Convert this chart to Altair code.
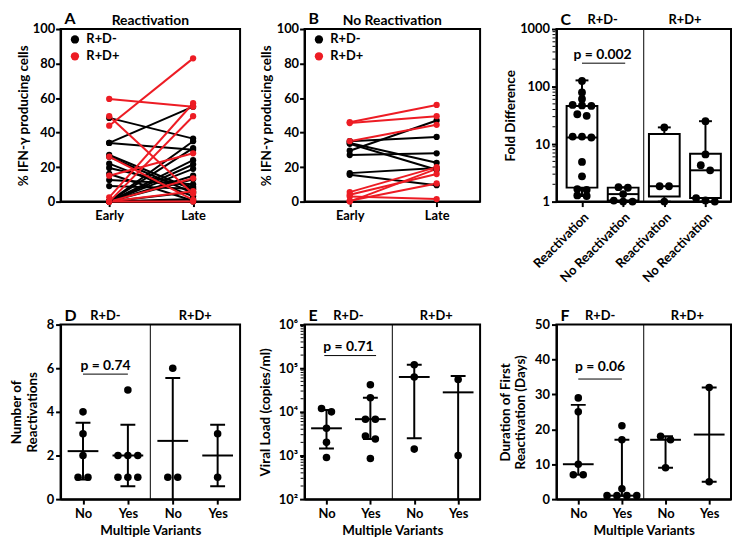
import math
import altair as alt
import pandas as pd

FONT = "Lato"
RED = "#ed1c24"

# ---------------- data ----------------
GROUPS = ["R+D-", "R+D+"]
TIME_LABELS = ["Early", "Late"]

# Panel A (Reactivation) : early/late % IFN-g producing cells
A_black_early = [48.5, 34, 34, 27, 26, 22, 19.5, 16, 12.5, 9, 0, 0, 0, 0, 0, 0, 0, 0, 0, 0]
A_black_late = [36.5, 55, 30, 7, 5, 3, 8.5, 0.5, 10, 7.5, 35, 31, 24, 21.5, 19, 15, 13, 5.5, 1.5, 0]
A_red_early = [59.5, 44, 49.5, 26, 15, 2.5, 0, 0, 0, 0]
A_red_late = [55, 83, 4.5, 1, 28, 57, 49.5, 13.5, 6, 0]

# Panel B (No Reactivation)
B_black_early = [35, 34, 33.5, 29.5, 27, 16.5, 15.5]
B_black_late = [37.5, 22.5, 18.5, 47, 28, 19.5, 9.5]
B_red_early = [46, 45.5, 35, 5.5, 4, 3, 0.5, 0]
B_red_late = [56, 49.5, 44.5, 20, 16, 1.5, 10.5, 19]

# Panel C (Fold difference, box plots min-max)
C_labels = ["Reactivation", "No Reactivation", "Reactivation", "No Reactivation"]
C_vals = [
    [125, 79, 61, 48, 47, 46, 33, 31, 13.5, 13.5, 13, 4.9, 2.75, 1.65, 1.6, 1.28, 1.25],
    [1.78, 1.74, 1.35, 1.04, 1.0, 1.0],
    [19.5, 1.85, 1.85, 1.0],
    [25, 6.6, 4.3, 3.5, 1.15, 1.05, 1.0],
]
C_min = [1.25, 1.0, 1.0, 1.0]
C_q1 = [1.75, 1.05, 1.23, 1.15]
C_med = [13, 1.35, 1.85, 3.5]
C_q3 = [46, 1.75, 15, 6.8]
C_max = [128, 1.78, 19.5, 25]
C_p = "p = 0.002"
C_p_text_y = 350
C_p_line_y = 255
LOG_MINOR = [2, 3, 4, 5, 6, 7, 8, 9]

MV_labels = ["No", "Yes", "No", "Yes"]

# Panel D (Number of reactivations, mean +/- SD)
D_vals = [[4, 3, 2, 1, 1], [5, 2, 2, 2, 1, 1, 1], [6, 1, 1], [3, 1]]
D_center = [2.2, 2.0, 2.67, 2.0]
D_lo = [0.9, 0.59, -0.22, 0.59]
D_hi = [3.5, 3.41, 5.55, 3.41]
D_p = "p = 0.74"
D_p_text_y = 6.1
D_p_line_y = 5.73

# Panel E (Viral load, median with IQR)
E_vals = [[12000, 10000, 4200, 2000, 900],
          [42000, 21000, 6800, 6800, 2800, 2400, 850],
          [120000, 63000, 1400],
          [55000, 1000]]
E_center = [4200, 6800, 63000, 28000]
E_lo = [1450, 2400, 2500, 50]
E_hi = [11000, 21000, 120000, 66000]
E_p = "p = 0.71"
E_p_text_y = 300000
E_p_line_y = 195000

# Panel F (Duration of first reactivation, median with IQR)
F_vals = [[29, 25, 10, 7, 7], [21, 17, 3, 1, 1, 1, 1], [18, 17, 9], [32, 5]]
F_center = [10, 1, 17, 18.5]
F_lo = [7, 1, 9, 5]
F_hi = [27, 17, 18, 32]
F_p = "p = 0.06"
F_p_text_y = 37.9
F_p_line_y = 34.4

# ---------------- layout ----------------
W1, W2, W3 = 181, 177, 176
H1, H2 = 174, 176
POS = [1, 2, 3, 4]
LBL = 13


def text_layer(txt, x, y, size, align="left", baseline="alphabetic"):
    return alt.Chart(pd.DataFrame({"txt": [txt]})).mark_text(
        font=FONT, fontWeight="bold", fontSize=size, align=align,
        baseline=baseline, color="black"
    ).encode(text="txt:N", x=alt.value(x), y=alt.value(y))


def line_panel(be, bl, re_, rl, domain, W, H, letter, title, tpad):
    rows = []
    for g, ee, ll in ((GROUPS[0], be, bl), (GROUPS[1], re_, rl)):
        for i, (e, l) in enumerate(zip(ee, ll)):
            rows.append(dict(id=f"{g}{i}", grp=g, t=0, v=e))
            rows.append(dict(id=f"{g}{i}", grp=g, t=1, v=l))
    df = pd.DataFrame(rows)
    X = alt.X("t:Q", scale=alt.Scale(domain=domain, nice=False, zero=False),
              axis=alt.Axis(values=[0, 1], title=None, labelPadding=3,
                            labelExpr="datum.value == 0 ? '%s' : '%s'" % tuple(TIME_LABELS)))
    Y = alt.Y("v:Q", scale=alt.Scale(domain=[0, 100], nice=False),
              axis=alt.Axis(values=[0, 20, 40, 60, 80, 100], title="% IFN-γ producing cells",
                            titlePadding=tpad, labelPadding=1))
    sc = alt.Scale(domain=GROUPS, range=["black", RED])
    lines_b = alt.Chart(df).transform_filter(alt.datum.grp == GROUPS[0]).mark_line(
        strokeWidth=2, color="black").encode(x=X, y=Y, detail="id:N")
    lines_r = alt.Chart(df).transform_filter(alt.datum.grp == GROUPS[1]).mark_line(
        strokeWidth=2, color=RED).encode(x=X, y=Y, detail="id:N")
    pts = alt.Chart(df).mark_circle(size=40, opacity=1).encode(
        x=X, y=Y,
        color=alt.Color("grp:N", scale=sc, legend=alt.Legend(
            orient="none", legendX=8, legendY=4, title=None, symbolType="circle",
            symbolSize=70, symbolStrokeWidth=0, labelFont=FONT, labelFontSize=13,
            labelFontWeight="bold", labelColor="black", padding=0, rowPadding=3,
            labelOffset=5)))
    let = text_layer(letter, 4, -5, 16)
    tit = text_layer(title, W / 2, -4, 14, align="center")
    return alt.layer(lines_b, lines_r, pts, let, tit).properties(width=W, height=H)


def dodge(vals, to_px, step, thresh=6.0):
    order = sorted(range(len(vals)), key=lambda i: -vals[i])
    clusters = []
    for i in order:
        if clusters and abs(to_px(vals[clusters[-1][0]]) - to_px(vals[i])) < thresh:
            clusters[-1].append(i)
        else:
            clusters.append([i])
    off = [0.0] * len(vals)
    for c in clusters:
        k = len(c)
        for j, i in enumerate(c):
            off[i] = (j - (k - 1) / 2) * step
    return off


def points_df(groups, to_px, W):
    rows = []
    step = 10 / (W / 4)
    for p, vals in zip(POS, groups):
        offs = dodge(vals, to_px, step)
        for v, o in zip(vals, offs):
            rows.append(dict(x=p + o, y=v))
    return pd.DataFrame(rows)


def x_enc(labels, title, angle):
    expr = "[" + ",".join("'%s'" % s for s in labels) + "][datum.value - 1]"
    ax = dict(values=POS, labelExpr=expr, labelPadding=4, titlePadding=3, labelOverlap=False)
    ax["title"] = title if title else None
    if angle:
        ax["labelAngle"] = angle
    return alt.X("x:Q", scale=alt.Scale(domain=[0.5, 4.5], nice=False, zero=False),
                 axis=alt.Axis(**ax))


def common_layers(X, Yf, W, H, letter, ptxt, pty, ply, plx):
    div = alt.Chart(pd.DataFrame({"x": [2.5]})).mark_rule(color="black", strokeWidth=1).encode(
        x=X, y=alt.value(0), y2=alt.value(H))
    ptext = alt.Chart(pd.DataFrame({"x": [1.5], "y": [pty], "txt": [ptxt]})).mark_text(
        font=FONT, fontWeight="bold", fontSize=14, color="black", baseline="middle").encode(
        x=X, y=Yf("y"), text="txt:N")
    pline = alt.Chart(pd.DataFrame({"x": [plx[0]], "x2": [plx[1]], "y": [ply]})).mark_rule(
        color="black", strokeWidth=1).encode(x=X, x2="x2:Q", y=Yf("y"))
    grp = alt.Chart(pd.DataFrame({"x": [1.5, 3.5], "txt": GROUPS})).mark_text(
        font=FONT, fontWeight="bold", fontSize=13, color="black", baseline="alphabetic").encode(
        x=X, y=alt.value(-5), text="txt:N")
    let = text_layer(letter, 4, -4, 16)
    return [div, pline, ptext, grp, let]


def minor_ticks(decades, Yf):
    vals = [m * 10 ** d for d in decades for m in LOG_MINOR]
    return alt.Chart(pd.DataFrame({"y": vals})).mark_tick(
        orient="horizontal", size=3, thickness=1, color="black", opacity=1).encode(
        x=alt.value(-2.5), y=Yf("y"))


def err_panel(vals, center, lo, hi, W, H, yscale, yaxis, to_px, letter, ptxt, pty, ply, plx,
              minor=None):
    X = x_enc(MV_labels, "Multiple Variants", None)

    def Yf(f):
        return alt.Y(f + ":Q", scale=yscale, axis=yaxis)

    st = pd.DataFrame({"x": POS, "center": center, "lo": lo, "hi": hi})
    pts = points_df(vals, to_px, W)
    rule = alt.Chart(st).mark_rule(color="black", strokeWidth=2, clip=True).encode(
        x=X, y=Yf("lo"), y2="hi:Q")
    mid = alt.Chart(st).mark_tick(orient="horizontal", size=31, thickness=2, color="black",
                                  opacity=1).encode(x=X, y=Yf("center"))
    cap_lo = alt.Chart(st).mark_tick(orient="horizontal", size=15, thickness=2, color="black",
                                     opacity=1, clip=True).encode(x=X, y=Yf("lo"))
    cap_hi = alt.Chart(st).mark_tick(orient="horizontal", size=15, thickness=2, color="black",
                                     opacity=1, clip=True).encode(x=X, y=Yf("hi"))
    dots = alt.Chart(pts).mark_circle(size=58, color="black", opacity=1).encode(x=X, y=Yf("y"))
    layers = [rule, mid, cap_lo, cap_hi, dots] + common_layers(X, Yf, W, H, letter, ptxt, pty, ply, plx)
    if minor:
        layers.append(minor_ticks(minor, Yf))
    return alt.layer(*layers).properties(width=W, height=H)


def box_panel(W, H):
    X = x_enc(C_labels, None, 315)
    ysc = alt.Scale(type="log", domain=[1, 1000], nice=False)
    yax = alt.Axis(values=[1, 10, 100, 1000], format="d", title="Fold Difference", titlePadding=2)

    def Yf(f):
        return alt.Y(f + ":Q", scale=ysc, axis=yax)

    st = pd.DataFrame({"x": POS, "mn": C_min, "q1": C_q1, "med": C_med, "q3": C_q3, "mx": C_max})
    pts = points_df(C_vals, lambda v: math.log10(v) * H / 3, W)
    box = alt.Chart(st).mark_bar(size=31, fill="white", fillOpacity=0, stroke="black",
                                 strokeWidth=2).encode(x=X, y=Yf("q1"), y2="q3:Q")
    w_lo = alt.Chart(st).mark_rule(color="black", strokeWidth=2).encode(x=X, y=Yf("mn"), y2="q1:Q")
    w_hi = alt.Chart(st).mark_rule(color="black", strokeWidth=2).encode(x=X, y=Yf("q3"), y2="mx:Q")
    med = alt.Chart(st).mark_tick(orient="horizontal", size=31, thickness=2, color="black",
                                  opacity=1).encode(x=X, y=Yf("med"))
    cap_lo = alt.Chart(st).mark_tick(orient="horizontal", size=13, thickness=2, color="black",
                                     opacity=1).encode(x=X, y=Yf("mn"))
    cap_hi = alt.Chart(st).mark_tick(orient="horizontal", size=13, thickness=2, color="black",
                                     opacity=1).encode(x=X, y=Yf("mx"))
    dots = alt.Chart(pts).mark_circle(size=62, color="black", opacity=1).encode(x=X, y=Yf("y"))
    layers = [box, w_lo, w_hi, med, cap_lo, cap_hi, dots] + common_layers(
        X, Yf, W, H, "C", C_p, C_p_text_y, C_p_line_y, (1, 2.05)) + [minor_ticks([0, 1, 2], Yf)]
    return alt.layer(*layers).properties(width=W, height=H)


def spacer(w, h):
    return alt.Chart(pd.DataFrame({"z": [0]})).mark_point(opacity=0).encode(
        x=alt.value(0), y=alt.value(0)).properties(
        width=w, height=h, view=alt.ViewBackground(strokeOpacity=0))


A = line_panel(A_black_early, A_black_late, A_red_early, A_red_late, [-0.58, 1.56],
               W1, H1, "A", "Reactivation", 2)
B = line_panel(B_black_early, B_black_late, B_red_early, B_red_late, [-0.52, 1.5],
               W2, H1, "B", "No Reactivation", 3)
C = box_panel(W3, H1)

D = err_panel(D_vals, D_center, D_lo, D_hi, W1, H2,
              alt.Scale(domain=[0, 8], nice=False),
              alt.Axis(values=[0, 2, 4, 6, 8], title=["Number of", "Reactivations"], titlePadding=7),
              lambda v: v * H2 / 8, "D", D_p, D_p_text_y, D_p_line_y, (1, 2))
E = err_panel(E_vals, E_center, E_lo, E_hi, W2, H2,
              alt.Scale(type="log", domain=[100, 1000000], nice=False),
              alt.Axis(values=[100, 1000, 10000, 100000, 1000000],
                       labelExpr="'10' + ['⁰','¹','²','³','⁴','⁵','⁶'][round(log(datum.value)/LN10)]",
                       title="Viral Load (copies/ml)", titlePadding=6),
              lambda v: math.log10(v) * H2 / 4, "E", E_p, E_p_text_y, E_p_line_y, (0.95, 2.13),
              minor=[2, 3, 4, 5])
F = err_panel(F_vals, F_center, F_lo, F_hi, W3, H2,
              alt.Scale(domain=[0, 50], nice=False),
              alt.Axis(values=[0, 10, 20, 30, 40, 50], title=["Duration of First", "Reactivation (Days)"],
                       titlePadding=7),
              lambda v: v * H2 / 50, "F", F_p, F_p_text_y, F_p_line_y, (1, 2))

chart = alt.concat(
    A, spacer(25, H1), B, spacer(37, H1), C,
    D, spacer(25, H2), E, spacer(37, H2), F,
    columns=5, spacing={"row": 124, "column": 20}, bounds="flush", align="each",
).resolve_scale(color="independent").resolve_legend(
    color="independent"
).properties(padding=0, background="white").configure_view(
    stroke="black", strokeWidth=2
).configure_axis(
    domainColor="black", domainWidth=2, tickColor="black", tickWidth=2, tickSize=5,
    labelColor="black", labelFont=FONT, labelFontWeight="bold", labelFontSize=LBL,
    titleFont=FONT, titleFontWeight="bold", titleFontSize=13.5, titleColor="black",
    grid=False, labelPadding=2,
)

chart.save("out.html", embed_options={"renderer": "svg", "actions": False})
